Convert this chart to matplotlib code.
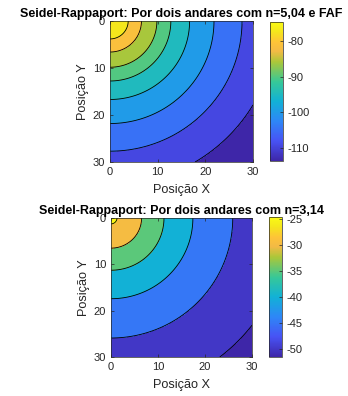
import numpy as np
import matplotlib
matplotlib.use('Agg')
import matplotlib.pyplot as plt
from matplotlib.colors import LinearSegmentedColormap, Normalize
from matplotlib.cm import ScalarMappable

plt.rcParams['font.family'] = ['Liberation Sans', 'DejaVu Sans']
plt.rcParams['axes.unicode_minus'] = False

# positions on the floor (m)
pos_x = np.linspace(0, 30, 301)
pos_y = np.linspace(0, 30, 301)

# top panel: n=5,04 with FAF
n_top = 5.04
h_top = 7.29           # offset distance between floors
p_origin_top = -74.75  # received power at (0,0)
levels_top = [-109.5, -104.7, -99.9, -94.8, -90.1, -86.1, -81.3, -77.4]
cticks_top = [-110, -100, -90, -80]
title_top = 'Seidel-Rappaport: Por dois andares com n=5,04 e FAF'

# bottom panel: n=3,14
n_bot = 3.14
h_bot = 6.0
p_origin_bot = -24.7
levels_bot = [-50, -45, -40, -35, -30, -25]
cticks_bot = [-50, -45, -40, -35, -30, -25]
title_bot = 'Seidel-Rappaport: Por dois andares com n=3,14'

# parula-like colormap
parula = LinearSegmentedColormap.from_list('parula', [
    (0.000, (0.2422, 0.1504, 0.6603)),
    (0.143, (0.2810, 0.3228, 0.9579)),
    (0.286, (0.1786, 0.5289, 0.9682)),
    (0.429, (0.0689, 0.6948, 0.8394)),
    (0.571, (0.2161, 0.7843, 0.5923)),
    (0.714, (0.6720, 0.7793, 0.2227)),
    (0.790, (0.9500, 0.7300, 0.2700)),
    (0.857, (0.9970, 0.7659, 0.2199)),
    (0.930, (0.9600, 0.9000, 0.1100)),
    (1.000, (0.9769, 0.9839, 0.0805)),
])

W, H = 348, 396
fig = plt.figure(figsize=(W / 100, H / 100), dpi=100)

def px(l, t, r, b):
    return [l / W, 1 - b / H, (r - l) / W, (b - t) / H]

tick_col = '#262626'

def panel(ax_box, cb_box, n, h, p0, levels, cticks, title):
    X, Y = np.meshgrid(pos_x, pos_y)
    d = np.sqrt(X ** 2 + Y ** 2 + h ** 2)
    Z = p0 - 10 * n * np.log10(d / h)
    zmin, zmax = Z.min(), Z.max()
    norm = Normalize(zmin, zmax)
    bounds = [zmin - 1e-6] + list(levels) + [zmax + 1e-6]
    fills = [parula(norm(max(b, zmin))) for b in bounds[:-1]]

    ax = fig.add_axes(px(*ax_box))
    ax.contourf(X, Y, Z, levels=bounds, colors=fills)
    ax.contour(X, Y, Z, levels=levels, colors='k', linewidths=0.6,
               linestyles='solid')
    ax.set_xlim(0, 30)
    ax.set_ylim(30, 0)
    ax.set_xticks([0, 10, 20, 30])
    ax.set_yticks([0, 10, 20, 30])
    ax.tick_params(direction='in', length=2.5, width=0.5, labelsize=8,
                   colors=tick_col, pad=3.5, top=True, right=True)
    for s in ax.spines.values():
        s.set_linewidth(0.5)
        s.set_color(tick_col)
    ax.set_xlabel('Posição X', fontsize=9.2, color=tick_col, labelpad=5)
    ax.set_ylabel('Posição Y', fontsize=9.2, color=tick_col, labelpad=3)
    ax.set_title(title, fontsize=9, fontweight='bold', pad=3)

    cax = fig.add_axes(px(*cb_box))
    sm = ScalarMappable(norm=norm, cmap=parula)
    cb = fig.colorbar(sm, cax=cax, ticks=cticks)
    cb.outline.set_linewidth(0.5)
    cb.outline.set_edgecolor(tick_col)
    cax.tick_params(direction='in', length=2.5, width=0.5, labelsize=8,
                    colors=tick_col, pad=3.5)

panel((110, 21, 253, 162), (270, 22, 283, 161), n_top, h_top, p_origin_top,
      levels_top, cticks_top, title_top)
panel((111, 218, 252, 357), (269, 217, 282, 357), n_bot, h_bot, p_origin_bot,
      levels_bot, cticks_bot, title_bot)

fig.savefig('out.png', dpi=100)
